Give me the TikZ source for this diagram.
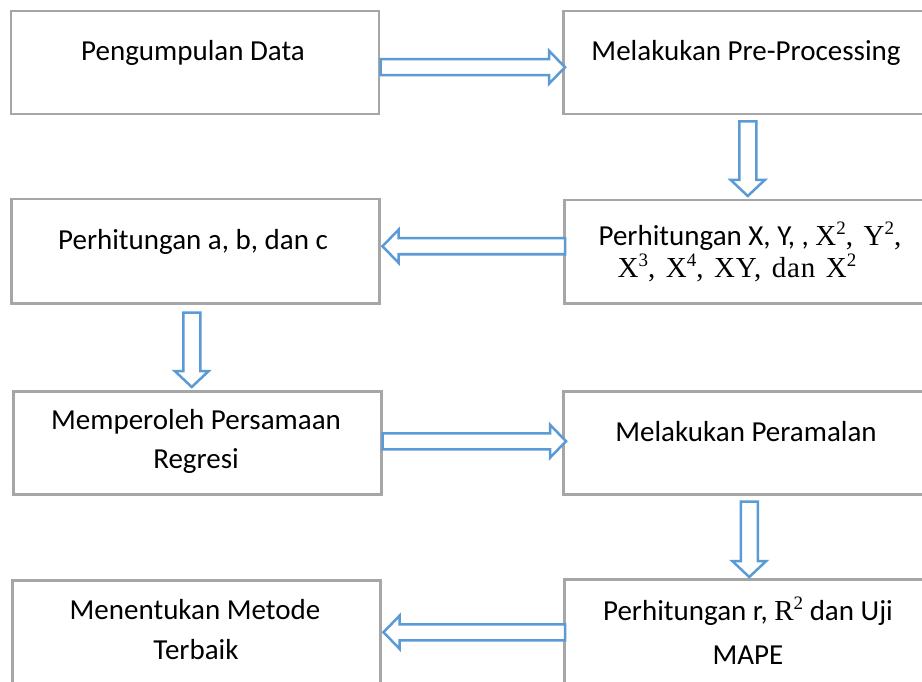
\documentclass[tikz,border=0pt]{standalone}
\usepackage[no-math]{fontspec}
\setmainfont{Carlito}
\newfontfamily\serifpart[LetterSpace=3,WordSpace=1.3]{Liberation Serif}
\usetikzlibrary{calc}
\definecolor{boxgray}{RGB}{166,166,166}
\definecolor{arrblue}{RGB}{91,155,213}
\newcommand\upidx[1]{\raisebox{0.36em}{\fontsize{19}{19}\selectfont #1}}
\tikzset{
  stepbox/.style={draw=boxgray, line width=2.5pt, fill=white, minimum width=368pt, inner sep=0pt, anchor=north west},
  lbl/.style={anchor=base, inner sep=0pt, font=\fontsize{29}{35}\selectfont},
  blk/.style={draw=arrblue, line width=2.5pt, fill=white, line join=miter},
}
% horizontal block arrow: start point, tip point (y taken from start)
\newcommand\harr[2]{\draw[blk] let \p1=(#1), \p2=(#2), \n1={sign(\x2-\x1)} in
  (\x1,\y1+8pt) -- ({\x2-\n1*16pt},\y1+8pt) -- ({\x2-\n1*16pt},\y1+16.5pt) -- (\x2,\y1)
  -- ({\x2-\n1*16pt},\y1-16.5pt) -- ({\x2-\n1*16pt},\y1-8pt) -- (\x1,\y1-8pt) -- cycle;}
% vertical block arrow: start point, tip point (x taken from start)
\newcommand\varr[2]{\draw[blk] let \p1=(#1), \p2=(#2), \n1={sign(\y2-\y1)} in
  (\x1-8.5pt,\y1) -- (\x1-8.5pt,{\y2-\n1*16pt}) -- (\x1-17pt,{\y2-\n1*16pt}) -- (\x1,\y2)
  -- (\x1+17pt,{\y2-\n1*16pt}) -- (\x1+8.5pt,{\y2-\n1*16pt}) -- (\x1+8.5pt,\y1) -- cycle;}
\begin{document}
\begin{tikzpicture}[x=1pt,y=-1pt]
\clip (0,0) rectangle (922,682);
\fill[white] (0,0) rectangle (922,682);
% boxes
\node[stepbox, minimum height=103pt] (b1) at (9.5,10) {};
\node[stepbox, minimum height=103pt] (b2) at (562,10) {};
\node[stepbox, minimum height=104pt] (b3) at (10,198) {};
\node[stepbox, minimum height=103pt] (b4) at (563,199) {};
\node[stepbox, minimum height=103pt] (b5) at (12,390) {};
\node[stepbox, minimum height=103pt] (b6) at (562,390) {};
\node[stepbox, minimum height=110pt] (b7) at (11,579) {};
\node[stepbox, minimum height=110pt] (b8) at (563,578) {};
% texts
\node[lbl] (t1) at (193,61) {Pengumpulan Data};
\node[lbl] (t2) at (746,61) {Melakukan Pre-Processing};
\node[lbl] (t3) at (193,250) {Perhitungan a, b, dan c};
\node[lbl] (t4a) at (750,245) {Perhitungan X, Y, , {\serifpart X\upidx{2}, Y\upidx{2},}};
\node[lbl] (t4b) at (737,277) {\serifpart X\upidx{3}, X\upidx{4}, XY, dan X\upidx{2}};
\node[lbl] (t5a) at (196,429) {Memperoleh Persamaan};
\node[lbl] (t5b) at (196,468) {Regresi};
\node[lbl] (t6) at (746,441) {Melakukan Peramalan};
\node[lbl] (t7a) at (195,619) {Menentukan Metode};
\node[lbl] (t7b) at (196,659) {Terbaik};
\node[lbl] (t8a) at (748,620) {Perhitungan r, {\serifpart R\upidx{2}} dan Uji};
\node[lbl] (t8b) at (748,664) {MAPE};
% arrows
\harr{$(b1.east)+(0.5,4.5)$}{$(b2.west)+(3,0)$}
\varr{$(b2.south)+(0.5,6)$}{$(b4.north)+(0,-3)$}
\harr{$(b4.west)+(2,-5.5)$}{$(b3.east)+(2,0)$}
\varr{$(b3.south)+(-3.5,8)$}{$(b5.north)+(0,-3)$}
\harr{$(b5.east)+(0,-1.5)$}{$(b6.west)+(4,0)$}
\varr{$(b6.south)+(2,6)$}{$(b8.north)+(0,-1)$}
\harr{$(b8.west)+(2,-2)$}{$(b7.east)+(2,0)$}
\end{tikzpicture}
\end{document}
